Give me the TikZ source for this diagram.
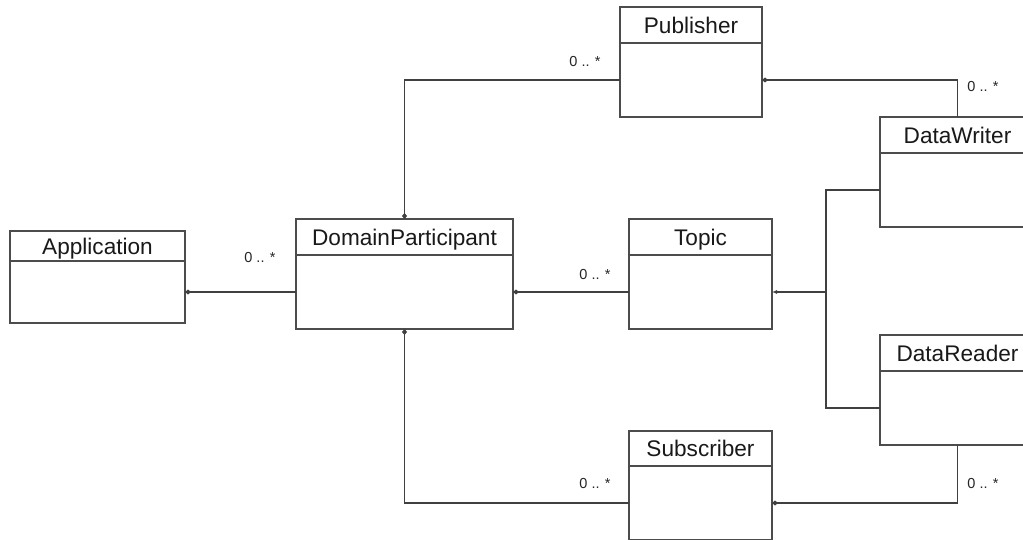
\documentclass[tikz,border=0pt]{standalone}
\usepackage{fontspec}
\setmainfont{Liberation Sans}
\usetikzlibrary{arrows.meta,positioning}

\begin{document}
\begin{tikzpicture}[x=1pt,y=-1pt]

	\tikzstyle class head=[draw=black!70, line width=1.1pt, inner sep=0pt, outer sep=0pt, font=\fontsize{22.6}{27}\selectfont, text=black!90, text height=16.2pt, text depth=0pt];
	\tikzstyle class body=[draw=black!70, line width=1.1pt, inner sep=0pt, outer sep=0pt];
	\tikzstyle assoc lines=[draw=black!75, line width=1.1pt];
	\tikzstyle owner=[{Diamond[length=6pt,width=5pt]}-];
	\tikzstyle mult=[font=\fontsize{14.5}{17}\selectfont, inner sep=0pt, text=black!85];

	\useasboundingbox (0,0) rectangle (1023,540);
	\fill[white] (0,0) rectangle (1023,540);
	\clip (0,0) rectangle (1023,540);

	% classes: name/text/x/y/width/head/body
	\foreach \n/\t/\x/\y/\w/\h/\b in {app/Application/97.5/246/175/30/62,
			dp/DomainParticipant/404.5/237/217/36/74,
			pub/Publisher/691/25/142/36/74,
			topic/Topic/700.5/237/143/36/74,
			sub/Subscriber/700.5/448.5/143/35/74,
			dw/DataWriter/957.5/135/155/36/74,
			dr/DataReader/957.5/353/155/36/74}
	{
		\node[class head, minimum width=\w pt, minimum height=\h pt] (\n) at (\x,\y) {\t};
		\node[class body, minimum width=\w pt, minimum height=\b pt, below=0pt of \n] (\n-b) {};
	}

	\draw[assoc lines, owner] (app-b.east) -- (dp-b.west);
	\draw[assoc lines, owner] (dp-b.east) -- (topic-b.west);
	\draw[assoc lines, owner] (dp.north) |- (pub-b.west);
	\draw[assoc lines, owner] (dp-b.south) |- (sub-b.west);
	\draw[assoc lines, owner] (pub-b.east) -| (dw.north);
	\draw[assoc lines, owner] (sub-b.east) -| (dr-b.south);

	\coordinate (split) at (826,292);
	\draw[assoc lines] (dw-b.west) -| (split) |- (dr-b.west);
	\draw[assoc lines, -{Latex[length=5pt,width=4pt]}] (split) -- (topic-b.east);

	\node[mult] (m-app) at (260,258) {0 .. *};
	\node[mult] (m-topic) at (595,275) {0 .. *};
	\node[mult] (m-pub) at (585,62) {0 .. *};
	\node[mult] (m-sub) at (595,484) {0 .. *};
	\node[mult] (m-dw) at (983,87) {0 .. *};
	\node[mult] (m-dr) at (983,484) {0 .. *};

\end{tikzpicture}
\end{document}
